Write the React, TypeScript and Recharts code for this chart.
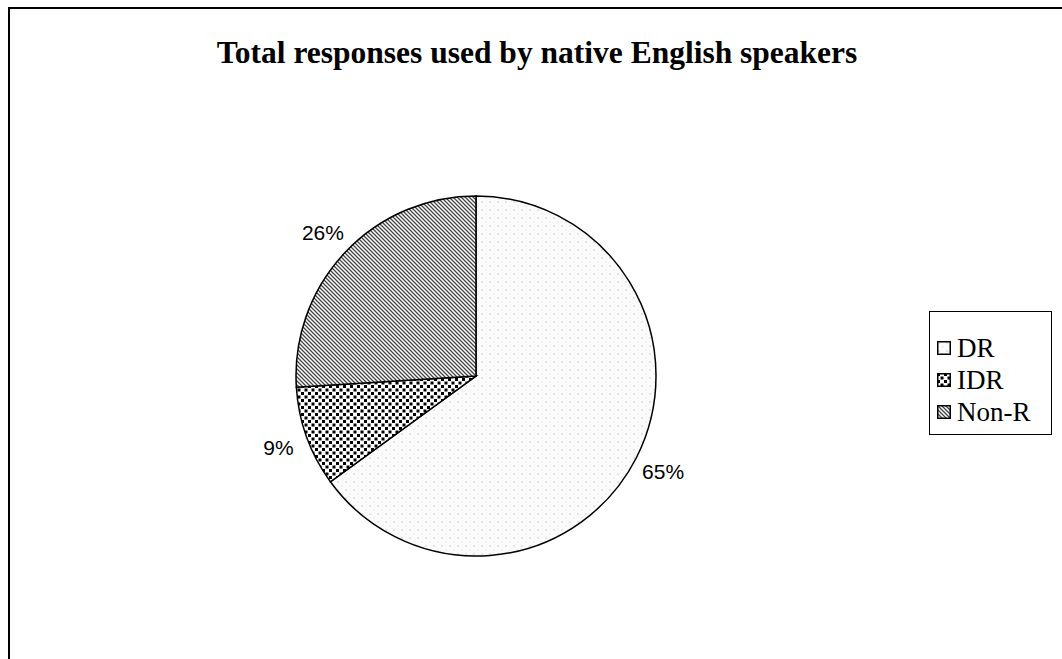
import React from 'react';
import { PieChart, Pie, Cell, Legend } from 'recharts';

const categories = ['DR', 'IDR', 'Non-R'];
const values = [65, 9, 26];
const percentLabels = ['65%', '9%', '26%'];
const patternIds = ['patDR', 'patIDR', 'patNonR'];
const title = 'Total responses used by native English speakers';

const data = categories.map((name, i) => ({ name, value: values[i], label: percentLabels[i] }));

const CX = 476;
const CY = 376;
const R = 180;
const RAD = Math.PI / 180;

const renderLabel = (props: any) => {
  const { midAngle, index } = props;
  const r = R + 30;
  const x = CX + r * Math.cos(-midAngle * RAD);
  const y = CY + r * Math.sin(-midAngle * RAD);
  return (
    <text
      x={x}
      y={y}
      textAnchor="middle"
      dominantBaseline="central"
      fontFamily="'Liberation Sans', Arial, sans-serif"
      fontSize={21}
      fill="#000"
    >
      {data[index].label}
    </text>
  );
};

const renderLegend = () => (
  <div
    style={{
      width: 123,
      boxSizing: 'border-box',
      border: '1px solid #000',
      background: '#fff',
      padding: '20px 2px 6px 7px',
      fontFamily: "'Liberation Serif', 'Times New Roman', serif",
      fontSize: 27,
      color: '#000',
    }}
  >
    {data.map((d, i) => (
      <div key={d.name} style={{ display: 'flex', alignItems: 'center', height: 32, whiteSpace: 'nowrap' }}>
        <svg width={14} height={14} style={{ marginRight: 6, flex: 'none' }}>
          <rect x={0.75} y={0.75} width={12.5} height={12.5} fill={`url(#${patternIds[i]})`} stroke="#000" strokeWidth={1.5} />
        </svg>
        <span>{d.name}</span>
      </div>
    ))}
  </div>
);

export default function App() {
  return (
    <div style={{ position: 'fixed', left: 0, top: 0, width: 1062, height: 659, background: '#fff', overflow: 'hidden' }}>
      <div
        style={{
          position: 'absolute',
          left: 8,
          top: 7,
          width: 1100,
          height: 700,
          border: '2px solid #000',
          boxSizing: 'border-box',
        }}
      />
      <div style={{ position: 'absolute', left: 0, top: 0 }}>
        <PieChart width={1062} height={659} margin={{ top: 0, right: 0, bottom: 0, left: 0 }}>
          <defs>
            <pattern id="patDR" width="8" height="8" patternUnits="userSpaceOnUse">
              <rect width="8" height="8" fill="#fbfbfb" />
              <circle cx="2" cy="2" r="1" fill="#dedede" />
              <circle cx="6" cy="6" r="0.8" fill="#e6e6e6" />
            </pattern>
            <pattern id="patIDR" width="7" height="7" patternUnits="userSpaceOnUse">
              <rect width="7" height="7" fill="#fff" />
              <rect x="0" y="0" width="3" height="3" fill="#000" />
              <rect x="3.5" y="3.5" width="3" height="3" fill="#000" />
            </pattern>
            <pattern id="patNonR" width="4" height="4" patternUnits="userSpaceOnUse">
              <rect width="4" height="4" fill="#fff" />
              <path d="M-1,-1 L5,5 M-1,3 L1,5 M3,-1 L5,1" stroke="#444" strokeWidth="1.3" />
            </pattern>
          </defs>
          <text
            x={537}
            y={63}
            textAnchor="middle"
            fontFamily="'Liberation Serif', 'Times New Roman', serif"
            fontWeight="bold"
            fontSize={31.5}
            fill="#000"
          >
            {title}
          </text>
          <Pie
            data={data}
            dataKey="value"
            nameKey="name"
            cx={CX}
            cy={CY}
            outerRadius={R}
            startAngle={90}
            endAngle={-270}
            stroke="#000"
            strokeWidth={1.5}
            label={renderLabel}
            labelLine={false}
            isAnimationActive={false}
          >
            {data.map((d, i) => (
              <Cell key={d.name} fill={`url(#${patternIds[i]})`} />
            ))}
          </Pie>
          <Legend
            layout="vertical"
            content={renderLegend}
            wrapperStyle={{ position: 'absolute', left: 929, top: 311, width: 'auto' }}
          />
        </PieChart>
      </div>
    </div>
  );
}
